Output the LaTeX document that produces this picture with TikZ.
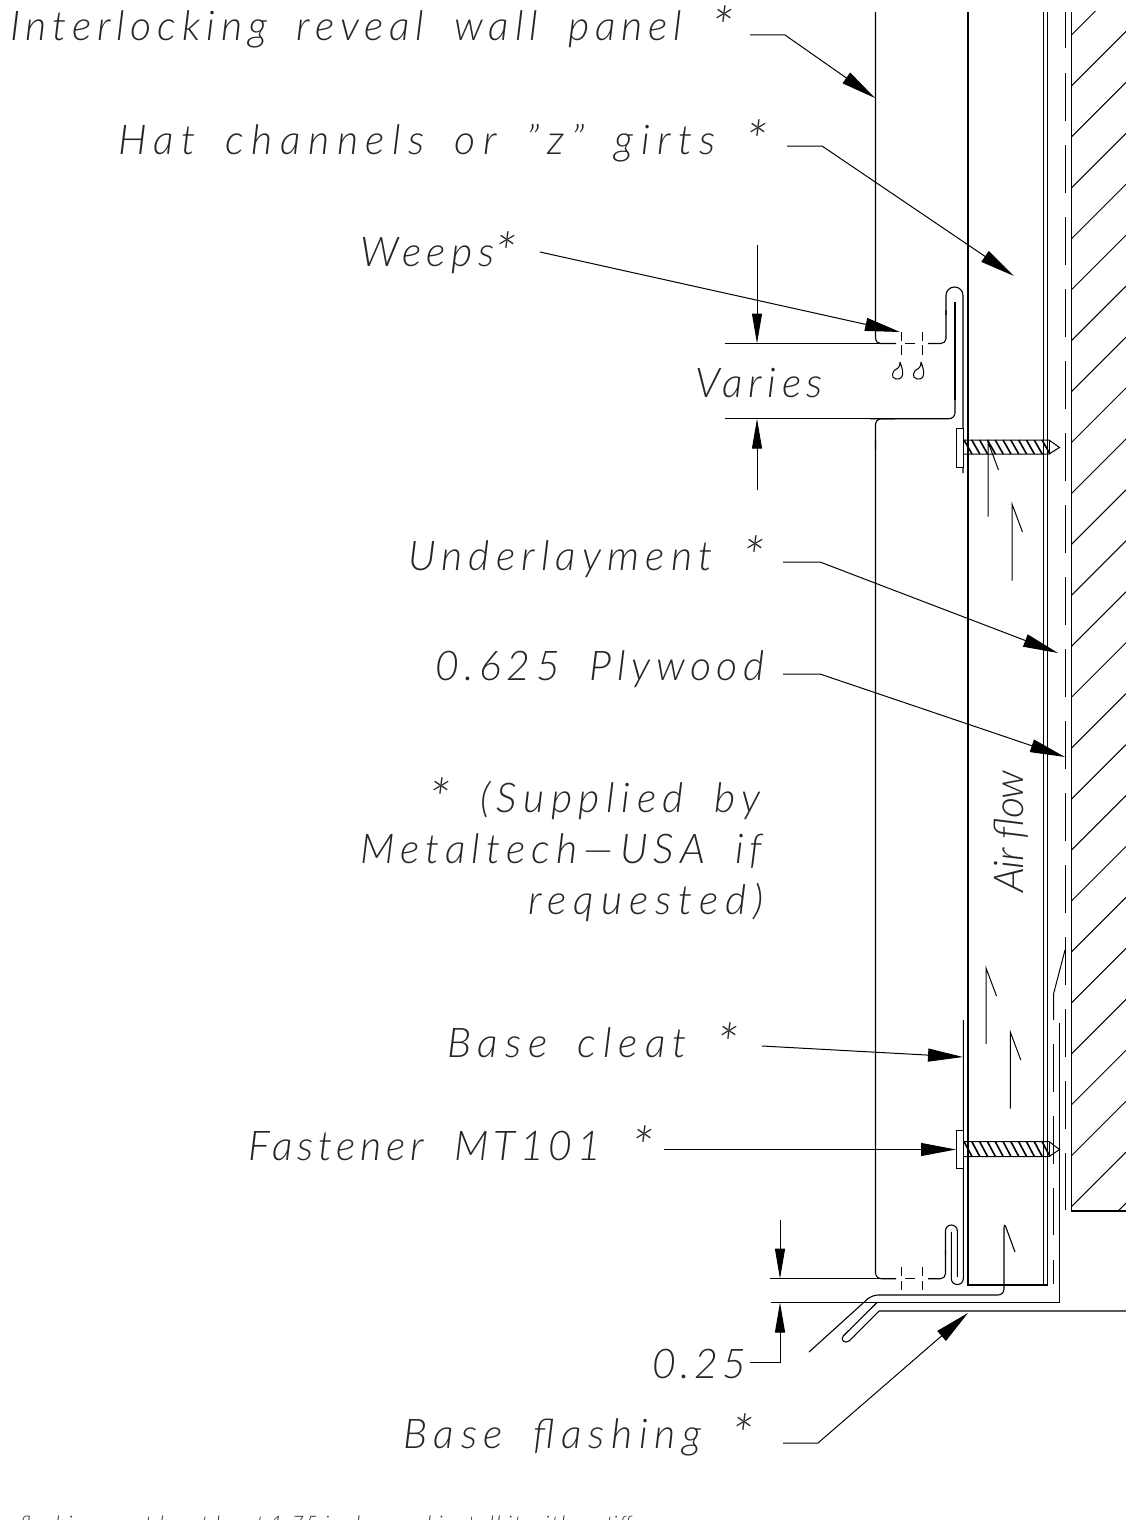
\documentclass[tikz,border=0pt]{standalone}
\usepackage{fontspec}
\setmainfont{Lato}[UprightFont=* Light,ItalicFont=* Light Italic,BoldFont=* Light]
\usetikzlibrary{arrows.meta}
\newcommand{\lsp}[1]{\addfontfeatures{LetterSpace=#1}\spaceskip=30pt\relax}
\newcommand{\bigast}{\raisebox{-7pt}{\fontsize{56}{56}\selectfont *}}
\tikzset{
 ln/.style={line width=1.1pt,black,line cap=butt},
 lead/.style={line width=1pt,black,-{Triangle[length=35pt,width=13pt]}},
 dimln/.style={line width=1pt,black,-{Triangle[length=30pt,width=10pt]}},
 lbl/.style={inner sep=0pt,anchor=base west,font=\fontsize{41}{41}\selectfont\itshape,text=black!85},
 thread/.style={line width=1.6pt,black},
 drop/.style={line width=1pt,black},
}
\begin{document}
\begin{tikzpicture}[x=1pt,y=-1pt]
\useasboundingbox[fill=white] (0,0) rectangle (1126,1520);
% labels
\node[lbl] (tA) at (10,41) {\lsp{14.3}Interlocking reveal wall panel \bigast};
\node[lbl] (tB) at (118,154) {\lsp{18.3}Hat channels or ”z” girts \bigast};
\node[lbl] (tC) at (360,266) {\lsp{13.5}Weeps\bigast};
\node[lbl] (tD) at (695,397) {\lsp{13.5}Varies};
\node[lbl] (tE) at (408,570) {\lsp{15}Underlayment \bigast};
\node[lbl] (tF) at (435,680) {\lsp{13.5}0.625 Plywood};
\node[lbl] (tG) at (428,812) {\lsp{16}\bigast\ (Supplied by};
\node[lbl] (tH) at (360,863) {\lsp{15}Metaltech—USA if};
\node[lbl] (tI) at (528,914) {\lsp{17}requested)};
\node[lbl] (tJ) at (447,1057) {\lsp{17}Base cleat \bigast};
\node[lbl] (tK) at (248,1160) {\lsp{11.7}Fastener MT101 \bigast};
\node[lbl] (tL) at (652,1378) {\lsp{11}0.25};
\node[lbl] (tM) at (403,1448) {\lsp{16.5}Base flashing \bigast};
\node[lbl,rotate=90] (tN) at (1023,893) {\addfontfeatures{LetterSpace=-3}\spaceskip=9pt\relax Air flow};
\begin{scope}
\clip (0,0) rectangle (1126,1520);
\node[lbl,font=\fontsize{20}{20}\selectfont\itshape] (tO) at (20,1530) {\addfontfeatures{LetterSpace=12}flashing must be at least 1.75 inches and install it with a stiff};
\end{scope}
% wall layers
\draw[ln] (1043.5,12)--(1043.5,1285);
\draw[ln] (1047.5,12)--(1047.5,1285);
\draw[ln] (968,12)--(968,1285)--(1047.5,1285);
\draw[ln] (1071.5,12)--(1071.5,1211)--(1126,1211);
\begin{scope}
\clip (1071.5,12) rectangle (1126,1211);
\foreach \k in {0,...,24}{
 \pgfmathsetmacro{\c}{1106.5+50.94*\k}
 \draw[line width=1pt] (1071.5,\c-1071.5)--(1126,\c-1126);
}
\end{scope}
% dashed layer
\draw[line width=1pt] (1065,12)--(1065,48);
\foreach \k in {0,...,14}{
 \pgfmathsetmacro{\a}{73+72*\k}
 \draw[line width=1pt] (1065,\a)--(1065,\a+48);
}
\draw[line width=1pt] (1065,1153)--(1065,1210);
\draw[line width=1pt] (1065,950)--(1053.5,994)--(1053.5,1020);
\foreach \a/\b in {1044/1092,1116/1164,1188/1235,1260/1284}{
 \draw[line width=1pt] (1053.5,\a)--(1053.5,\b);
}
% panel, upper
\draw[ln,rounded corners=5pt] (875.5,12)--(875.5,343.5)--(896,343.5);
\draw[ln] (725,343.5)--(885,343.5);
\draw[ln] (905,343.5)--(915,343.5);
\draw[ln,rounded corners=5pt] (928,343.5)--(946,343.5)--(946,310);
\draw[ln,rounded corners=8.4pt] (946,315)--(946,287)--(963,287)--(963,473);
\draw[ln] (955,302)--(955,400);
\draw[ln,rounded corners=6pt] (955,395)--(955,418.7)--(870,418.7);
\draw[ln] (725,418.7)--(875,418.7);
\draw[ln,rounded corners=6pt] (895,418.7)--(875.5,418.7)--(875.5,450);
% panel, lower
\draw[ln,rounded corners=6pt] (875.5,440)--(875.5,1278.7)--(896,1278.7);
\draw[ln] (770,1278.7)--(885,1278.7);
\draw[ln] (905,1278.7)--(915,1278.7);
\draw[ln,rounded corners=5pt] (928,1278.7)--(945.5,1278.7)--(945.5,1250);
\draw[ln,rounded corners=5.8pt] (945.5,1255)--(945.5,1225)--(957.3,1225)--(957.3,1277);
\draw[ln,rounded corners=5.8pt] (951.3,1232)--(951.3,1284.5)--(963.3,1284.5)--(963.3,1020);
% weep centre lines
\foreach \x in {901,922}{
 \draw[line width=1pt] (\x,332)--(\x,341);
 \draw[line width=1pt] (\x,345)--(\x,355);
 \draw[line width=1pt] (\x,1267)--(\x,1276);
 \draw[line width=1pt] (\x,1281)--(\x,1290);
 \draw[drop] (\x-1,362) .. controls (\x+3,372) and (\x+3,380) .. (\x-5,379) .. controls (\x-11,378) and (\x-9,370) .. (\x-3,368) .. controls (\x-1.5,367) and (\x-1,365) .. (\x-1,362);
}
% base flashing
\draw[ln] (1059.5,1023)--(1059.5,1302.5)--(771,1302.5);
\draw[ln,rounded corners=6pt] (809,1352)--(872,1295)--(1004,1295)--(1004,1222)--(1015,1252);
\draw[ln] (877,1302.5)--(843.2,1336);
\draw[ln] (843.2,1336) .. controls (840,1340) and (845,1344) .. (849,1341);
\draw[ln] (849,1341)--(879,1311)--(1126,1311);
% screws
\foreach \y/\wt/\wb/\bt/\bb in {447.5/428/467/440/454,1149.5/1130/1168.7/1141.5/1156.5}{
 \filldraw[line width=1pt,fill=white] (956.7,\wt) rectangle (963,\wb);
 \draw[line width=1pt] (963,\bt)--(1049,\bt)--(1059.5,\y)--(1049,\bb)--(963,\bb);
 \draw[line width=1pt] (1049,\bt)--(1049,\bb);
 \foreach \k in {0,...,10}{
  \draw[thread] (964+7.8*\k,\bt)--(972+7.8*\k,\bb);
 }
}
% air flow half arrows
\foreach \x/\yt/\yb in {988/442/516.7,1012/504/580.7,986/968/1044,1010.3/1032/1108.7}{
 \draw[line width=1pt] (\x,\yb)--(\x,\yt)--(\x+10.5,\yt+28);
}
% leaders
\coordinate (a1) at (750,35); \coordinate (a2) at (785,35); \coordinate (a3) at (875,98);
\coordinate (b1) at (787,146); \coordinate (b2) at (822,146); \coordinate (b3) at (1014,276);
\coordinate (c1) at (540,252); \coordinate (c3) at (900,332);
\coordinate (e1) at (783,562); \coordinate (e2) at (820,562); \coordinate (e3) at (1058,653);
\coordinate (f1) at (783,674); \coordinate (f2) at (820,674); \coordinate (f3) at (1065,757);
\coordinate (j1) at (762,1046); \coordinate (j3) at (963,1057);
\coordinate (k1) at (664,1149.5); \coordinate (k3) at (956,1149.5);
\coordinate (m1) at (783,1443); \coordinate (m2) at (818,1443); \coordinate (m3) at (968,1313);
\draw[lead] (a1)--(a2)--(a3);
\draw[lead] (b1)--(b2)--(b3);
\draw[lead] (c1)--(c3);
\draw[lead] (e1)--(e2)--(e3);
\draw[lead] (f1)--(f2)--(f3);
\draw[lead] (j1)--(j3);
\draw[lead] (k1)--(k3);
\draw[lead] (m1)--(m2)--(m3);
% dimensions
\coordinate (v1) at (757,245); \coordinate (v2) at (757,343.5);
\coordinate (v3) at (757,490); \coordinate (v4) at (757,418.7);
\draw[dimln] (v1)--(v2);
\draw[dimln] (v3)--(v4);
\coordinate (w1) at (780,1220); \coordinate (w2) at (780,1278.7);
\coordinate (w3) at (750,1362); \coordinate (w4) at (780,1362); \coordinate (w5) at (780,1302.5);
\draw[dimln] (w1)--(w2);
\draw[dimln] (w3)--(w4)--(w5);
\end{tikzpicture}
\end{document}
